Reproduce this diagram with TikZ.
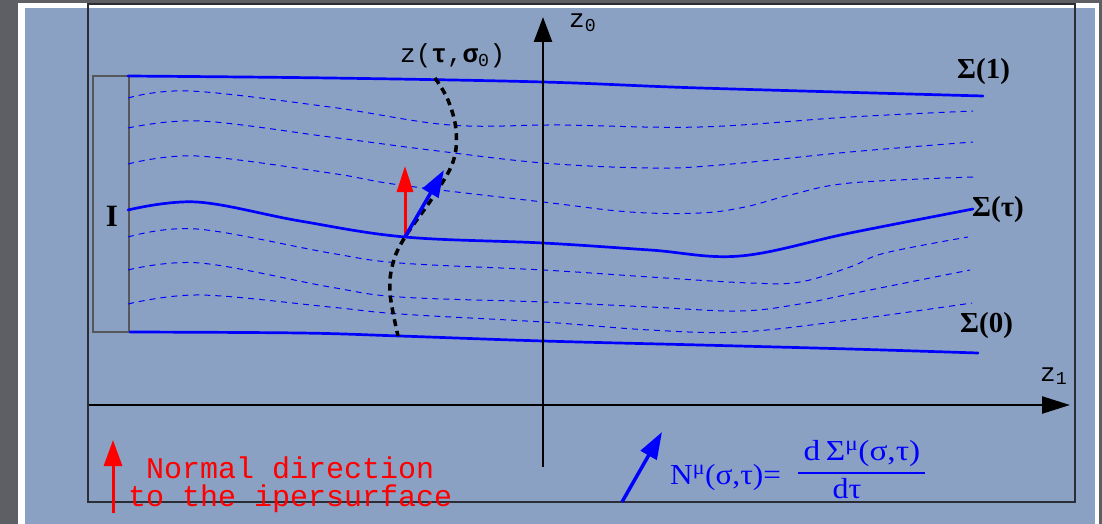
\documentclass[tikz,border=0pt]{standalone}
\usepackage{fontspec}
\usepackage{graphicx}
\setmainfont{Liberation Serif}
\newfontfamily\monof{Liberation Mono}
\usetikzlibrary{arrows.meta}
\definecolor{panelblue}{HTML}{8BA1C4}
\definecolor{bordergray}{HTML}{5D5F64}
\definecolor{lineblue}{HTML}{0000FF}
\definecolor{arrred}{HTML}{FF0000}
\definecolor{framegray}{HTML}{2A2D33}
\tikzset{
  surf/.style={lineblue, line width=2.7pt, line cap=round},
  midsurf/.style={lineblue, line width=1pt, dash pattern=on 6pt off 5pt},
  worldline/.style={black, line width=3.5pt, dash pattern=on 7pt off 5pt},
  axisline/.style={black, line width=2.3pt, -{Triangle[length=28pt,width=17pt]}},
  normarrow/.style={arrred, line width=3pt, -{Triangle[length=26pt,width=16pt]}},
  tanarrow/.style={lineblue, line width=3.5pt, -{Triangle[length=27pt,width=18pt]}},
  sigmalab/.style={font=\fontsize{29}{32}\selectfont\bfseries, anchor=base west, inner sep=0pt},
  monolab/.style={font=\fontsize{26}{28}\selectfont\monof, anchor=base west, inner sep=0pt},
  redtext/.style={arrred, font=\fontsize{30}{32}\selectfont\monof, anchor=base west, inner sep=0pt},
  formula/.style={lineblue, font=\fontsize{29}{32}\selectfont, inner sep=0pt}
}
\begin{document}
\begin{tikzpicture}[x=1pt,y=-1pt]
\useasboundingbox (0,0) rectangle (1102,524);
% background panel
\fill[bordergray] (0,0) rectangle (1102,524);
\fill[white] (18,3) rectangle (1099,530);
\fill[panelblue] (25,8) rectangle (1095,530);
% frame
\draw[framegray, line width=1.1pt] (88,4) rectangle (1075,502);
% interval box
\draw[framegray!80, line width=1.2pt] (93,76) rectangle (129,332);
\node[font=\fontsize{31}{32}\selectfont\bfseries, inner sep=0pt, anchor=base] (ilab) at (112,226) {I};

% dashed intermediate surfaces
\draw[midsurf] plot[smooth, tension=0.6] coordinates {(128,98) (190,91) (330,107) (450,125) (560,125) (700,127) (850,117) (973,111)};
\draw[midsurf] plot[smooth, tension=0.6] coordinates {(128,128) (200,121) (330,137) (430,150) (543,163) (650,168) (720,165) (850,152) (973,142)};
\draw[midsurf] plot[smooth, tension=0.6] coordinates {(128,164) (197,156) (330,173) (400,185) (543,202) (630,212) (700,213) (745,207) (790,195) (850,183) (973,177)};
\draw[midsurf] plot[smooth, tension=0.6] coordinates {(128,237) (197,229) (330,253) (400,263) (543,270) (650,277) (750,283) (800,282) (850,267) (885,253) (968,237)};
\draw[midsurf] plot[smooth, tension=0.6] coordinates {(128,270) (200,263) (330,287) (400,297) (543,302) (650,307) (740,311) (800,304) (850,294) (970,270)};
\draw[midsurf] plot[smooth, tension=0.6] coordinates {(128,304) (200,295) (330,307) (400,314) (543,322) (650,330) (740,332) (850,320) (972,303)};

% main surfaces
\draw[surf] plot[smooth, tension=0.6] coordinates {(128,76) (330,78) (543,82) (700,88) (983,96)};
\draw[surf] plot[smooth, tension=0.6] coordinates {(128,210) (197,202) (300,221) (405,237) (543,243) (650,250) (740,256) (850,233) (973,209)};
\draw[surf] plot[smooth, tension=0.6] coordinates {(130,332) (300,333) (400,336) (543,341) (700,345) (850,349) (978,353)};

% axes
\coordinate (xstart) at (89,405);
\coordinate (xend) at (1070,405);
\coordinate (ystart) at (543,467);
\coordinate (yend) at (543,17);
\draw[axisline] (xstart) -- (xend);
\draw[black, line width=2.6pt, -{Triangle[length=25pt,width=18pt]}] (ystart) -- (yend);
\node[monolab] (z0lab) at (569,28) {z\textsubscript{0}};
\node[monolab] (z1lab) at (1040,381) {z\textsubscript{1}};

% world line
\draw[worldline] plot[smooth, tension=0.6] coordinates {(435,78) (448,100) (456,130) (453,162) (433,197) (405,237) (393,263) (390,293) (398,336)};
\node[monolab] (zlab) at (400,63) {z(\textbf{τ},\textbf{σ}\textsubscript{0})};

% vectors at the point
\coordinate (P) at (405,237);
\coordinate (Rtip) at (405,166);
\coordinate (Btip) at (444,170);
\draw[normarrow] (P) -- (Rtip);
\draw[tanarrow] (P) -- (Btip);

% surface labels
\node[sigmalab] (s1) at (957,79) {Σ(1)};
\node[sigmalab] (st) at (972,216) {Σ(τ)};
\node[sigmalab] (s0) at (960,332) {Σ(0)};

% legend
\coordinate (Lr0) at (113,513);
\coordinate (Lr1) at (113,440);
\draw[arrred, line width=3pt, -{Triangle[length=26pt,width=18pt]}] (Lr0) -- (Lr1);
\node[redtext] (leg1) at (128,478) {\phantom{x}Normal direction};
\node[redtext] (leg2) at (128,506) {to the ipersurface};

\coordinate (Lb0) at (622,502);
\coordinate (Lb1) at (662,432);
\draw[tanarrow] (Lb0) -- (Lb1);
\node[formula, anchor=base west] (flhs) at (670,484) {\scalebox{1.08}[1]{N\textsuperscript{μ}(σ,τ)=}};
\node[formula, anchor=base] (fnum) at (862,460) {\scalebox{1.15}[1]{d\,Σ\textsuperscript{μ}(σ,τ)}};
\node[formula, anchor=base] (fden) at (847,498) {\scalebox{1.1}[1]{dτ}};
\draw[lineblue, line width=1.6pt] (798,473) -- (925,473);
\end{tikzpicture}
\end{document}
